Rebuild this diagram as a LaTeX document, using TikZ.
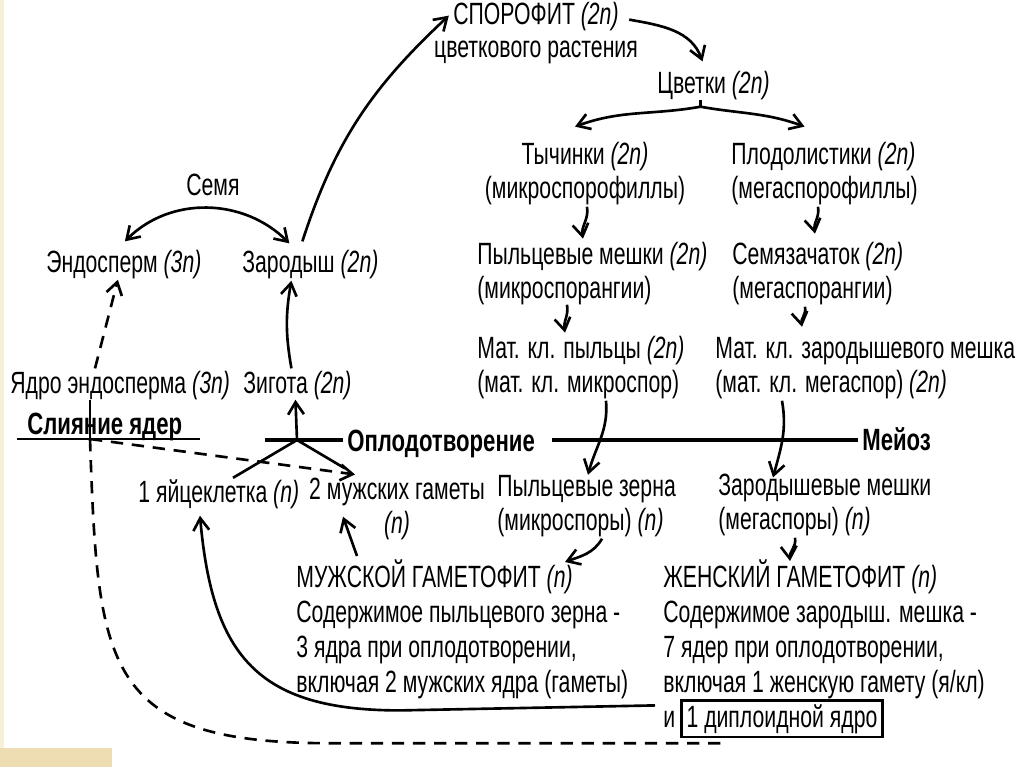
\documentclass[tikz,border=0pt]{standalone}
\usepackage{tikz}
\usepackage{fontspec}
\setmainfont{Liberation Sans}[FakeStretch=0.69]
\newfontfamily\hdrfont{Liberation Sans}[FakeStretch=0.72]
\usetikzlibrary{arrows.meta,calc}
\definecolor{slidebg}{HTML}{F6F0D8}
\definecolor{slidebar}{HTML}{EEDDB2}

\begin{document}
\begin{tikzpicture}[x=0.02cm, y=-0.02cm,
    lbl/.style={inner sep=0pt, anchor=base west, align=left, font=\fontsize{17.5}{19.2}\selectfont},
    lblc/.style={lbl, anchor=base, align=center},
    lbll/.style={lbl, font=\fontsize{17.5}{19.9}\selectfont},
    hdr/.style={lbl, font=\fontsize{17.5}{19.2}\selectfont\hdrfont\bfseries},
    ln/.style={line width=1.5pt},
    arr/.style={ln, -{Straight Barb[length=7pt,width=9pt]}},
    arrr/.style={ln, {Straight Barb[length=7pt,width=9pt]}-{Straight Barb[length=7pt,width=9pt]}},
    dashln/.style={ln, dash pattern=on 7pt off 5pt},
    dasharr/.style={dashln, -{Straight Barb[length=7pt,width=9pt]}},
    axisln/.style={line width=2.2pt}]
                \useasboundingbox (0, 0) rectangle (1024, 767);
                \fill [slidebg] (0, 0) rectangle (4, 767);
                \fill [slidebar] (0, 748) rectangle (112, 767);

                \node [lblc] (spor) at (536, 58) {СПОРОФИТ \textit{(2n)}\\цветкового растения};
                \node [lbl] (flow) at (657, 93) {Цветки \textit{(2n)}};
                \node [lblc] (stam) at (585, 198) {Тычинки \textit{(2n)}\\(микроспорофиллы)};
                \node [lbl] (carp) at (731, 198) {Плодолистики \textit{(2n)}\\(мегаспорофиллы)};
                \node [lbl] (psac) at (477, 298) {Пыльцевые мешки \textit{(2n)}\\(микроспорангии)};
                \node [lbl] (ovul) at (732, 298) {Семязачаток \textit{(2n)}\\(мегаспорангии)};
                \node [lbl] (pmc) at (477, 392) {Мат. кл. пыльцы \textit{(2n)}\\(мат. кл. микроспор)};
                \node [lbl] (emc) at (715, 392) {Мат. кл. зародышевого мешка\\(мат. кл. мегаспор) \textit{(2n)}};

                \node [lbl] (seed) at (186, 195) {Семя};
                \node [lbl] (endo) at (46, 272) {Эндосперм \textit{(3n)}};
                \node [lbl] (embr) at (242, 272) {Зародыш \textit{(2n)}};
                \node [lbl] (endn) at (10, 393) {Ядро эндосперма \textit{(3n)}};
                \node [lbl] (zyg) at (243, 393) {Зигота \textit{(2n)}};

                \node [hdr] (fus) at (27, 434) {Слияние ядер};
                \node [hdr] (fert) at (347, 451) {Оплодотворение};
                \node [hdr] (meio) at (862, 450) {Мейоз};

                \node [lbl] (egg) at (138, 502) {1 яйцеклетка \textit{(n)}};
                \node [lblc] (sperm) at (397, 533) {2 мужских гаметы\\\textit{(n)}};
                \node [lbl] (pgr) at (497, 530) {Пыльцевые зерна\\(микроспоры) \textit{(n)}};
                \node [lbl] (esac) at (718, 529) {Зародышевые мешки\\(мегаспоры) \textit{(n)}};

                \node [lbll] (mgam) at (296, 692) {МУЖСКОЙ ГАМЕТОФИТ \textit{(n)}\\Содержимое пыльцевого зерна -\\3 ядра при оплодотворении,\\включая 2 мужских ядра (гаметы)};
                \node [lbll] (fgam) at (663, 692) {ЖЕНСКИЙ ГАМЕТОФИТ \textit{(n)}\\Содержимое зародыш. мешка -\\7 ядер при оплодотворении,\\включая 1 женскую гамету (я/кл)};
                \node [lbl] (and) at (663, 727) {и};
                \node [lbl, draw, line width=1.5pt, inner xsep=3pt, inner ysep=2pt] (dipl) at (680, 727) {1 диплоидной ядро};

                \coordinate (fork) at ($(flow.south)+(-13, 7)$);
                \coordinate (fusj) at ($(fus.base west)+(63, 5)$);
                \coordinate (fertj) at ($(fert.base west)+(-50, -11)$);

                \draw [arr] ($(spor.north east)+(-9, 18)$) to [out=-10, in=110] ($(flow.north)+(-11, -9)$);
                \draw [ln] ($(flow.south)+(-13, 0)$) to (fork);
                \draw [arr] (fork) to [out=190, in=20] ($(stam.north)+(-10, -15)$);
                \draw [arr] (fork) to [out=-10, in=160] ($(carp.north)+(-20, -15)$);

                \draw [arr] ($(stam.south)+(2, 2)$) to [out=-80, in=100] ($(psac.north west)+(106, -3)$);
                \draw [arr] ($(carp.south west)+(87, 2)$) to [out=-80, in=100] ($(ovul.north west)+(83, -8)$);
                \draw [arr] ($(psac.south west)+(90, 0)$) to [out=-80, in=100] ($(pmc.north west)+(88, -3)$);
                \draw [arr] ($(ovul.south west)+(73, 2)$) to [out=-80, in=100] ($(emc.north west)+(87, -10)$);

                \draw [arrr] ($(endo.north)+(1, -8)$) to [out=45, in=135] ($(embr.north)+(-21, -6)$);
                \draw [arr] ($(embr.north)+(-8, -8)$) to [out=72, in=-137] ($(spor.north west)+(15, 14)$);
                \draw [arr] ($(zyg.north)+(-6, -2)$) to [bend left=10] ($(embr.south)+(-19, 2)$);
                \draw [dasharr] ($(endn.north west)+(85, -2)$) to ($(endo.south)+(-6, 1)$);

                \draw [ln] ($(fus.base west)+(-10, 5)$) to ($(fus.base east)+(17, 5)$);
                \draw [ln] ($(endn.south west)+(80, 0)$) to (fusj);
                \draw [dasharr] (fusj) to ($(sperm.north)+(-42, -3)$);
                \draw [dashln] (fusj) to [out=-88, in=180, looseness=1.5] ($(dipl.south west)+(-350, 5)$) to ($(dipl.south west)+(45, 5)$);

                \draw [axisln] ($(fertj)+(-32, 0)$) to ($(fert.base west)+(-4, -11)$);
                \draw [axisln] ($(fert.base east)+(17, -11)$) to ($(meio.base west)+(-4, -10)$);
                \draw [arr] (fertj) to ($(zyg.south)+(-2, 0)$);
                \draw [ln] ($(egg.north west)+(95, -1)$) to (fertj) to ($(sperm.north)+(-52, -9)$);

                \draw [arr] ($(pmc.south west)+(129, 2)$) to [out=-85, in=75] ($(pgr.north west)+(91, 0)$);
                \draw [arr] ($(emc.south west)+(67, 2)$) to [out=-80, in=75] ($(esac.north west)+(55, 4)$);
                \draw [arr] ($(pgr.south west)+(105, 2)$) to [out=-120, in=20] ($(mgam.north west)+(269, 3)$);
                \draw [arr] ($(esac.south west)+(77, 2)$) to [out=-80, in=95] ($(fgam.north west)+(127, 2)$);
                \draw [arr] ($(mgam.north west)+(61, -3)$) to ($(sperm.south)+(-54, -23)$);
                \draw [arr] ($(and.north west)+(-8, -5)$) -- ++(-255, 5) to [out=180, in=-85, looseness=1.3] ($(egg.south west)+(62, 7)$);
            \end{tikzpicture}
\end{document}
